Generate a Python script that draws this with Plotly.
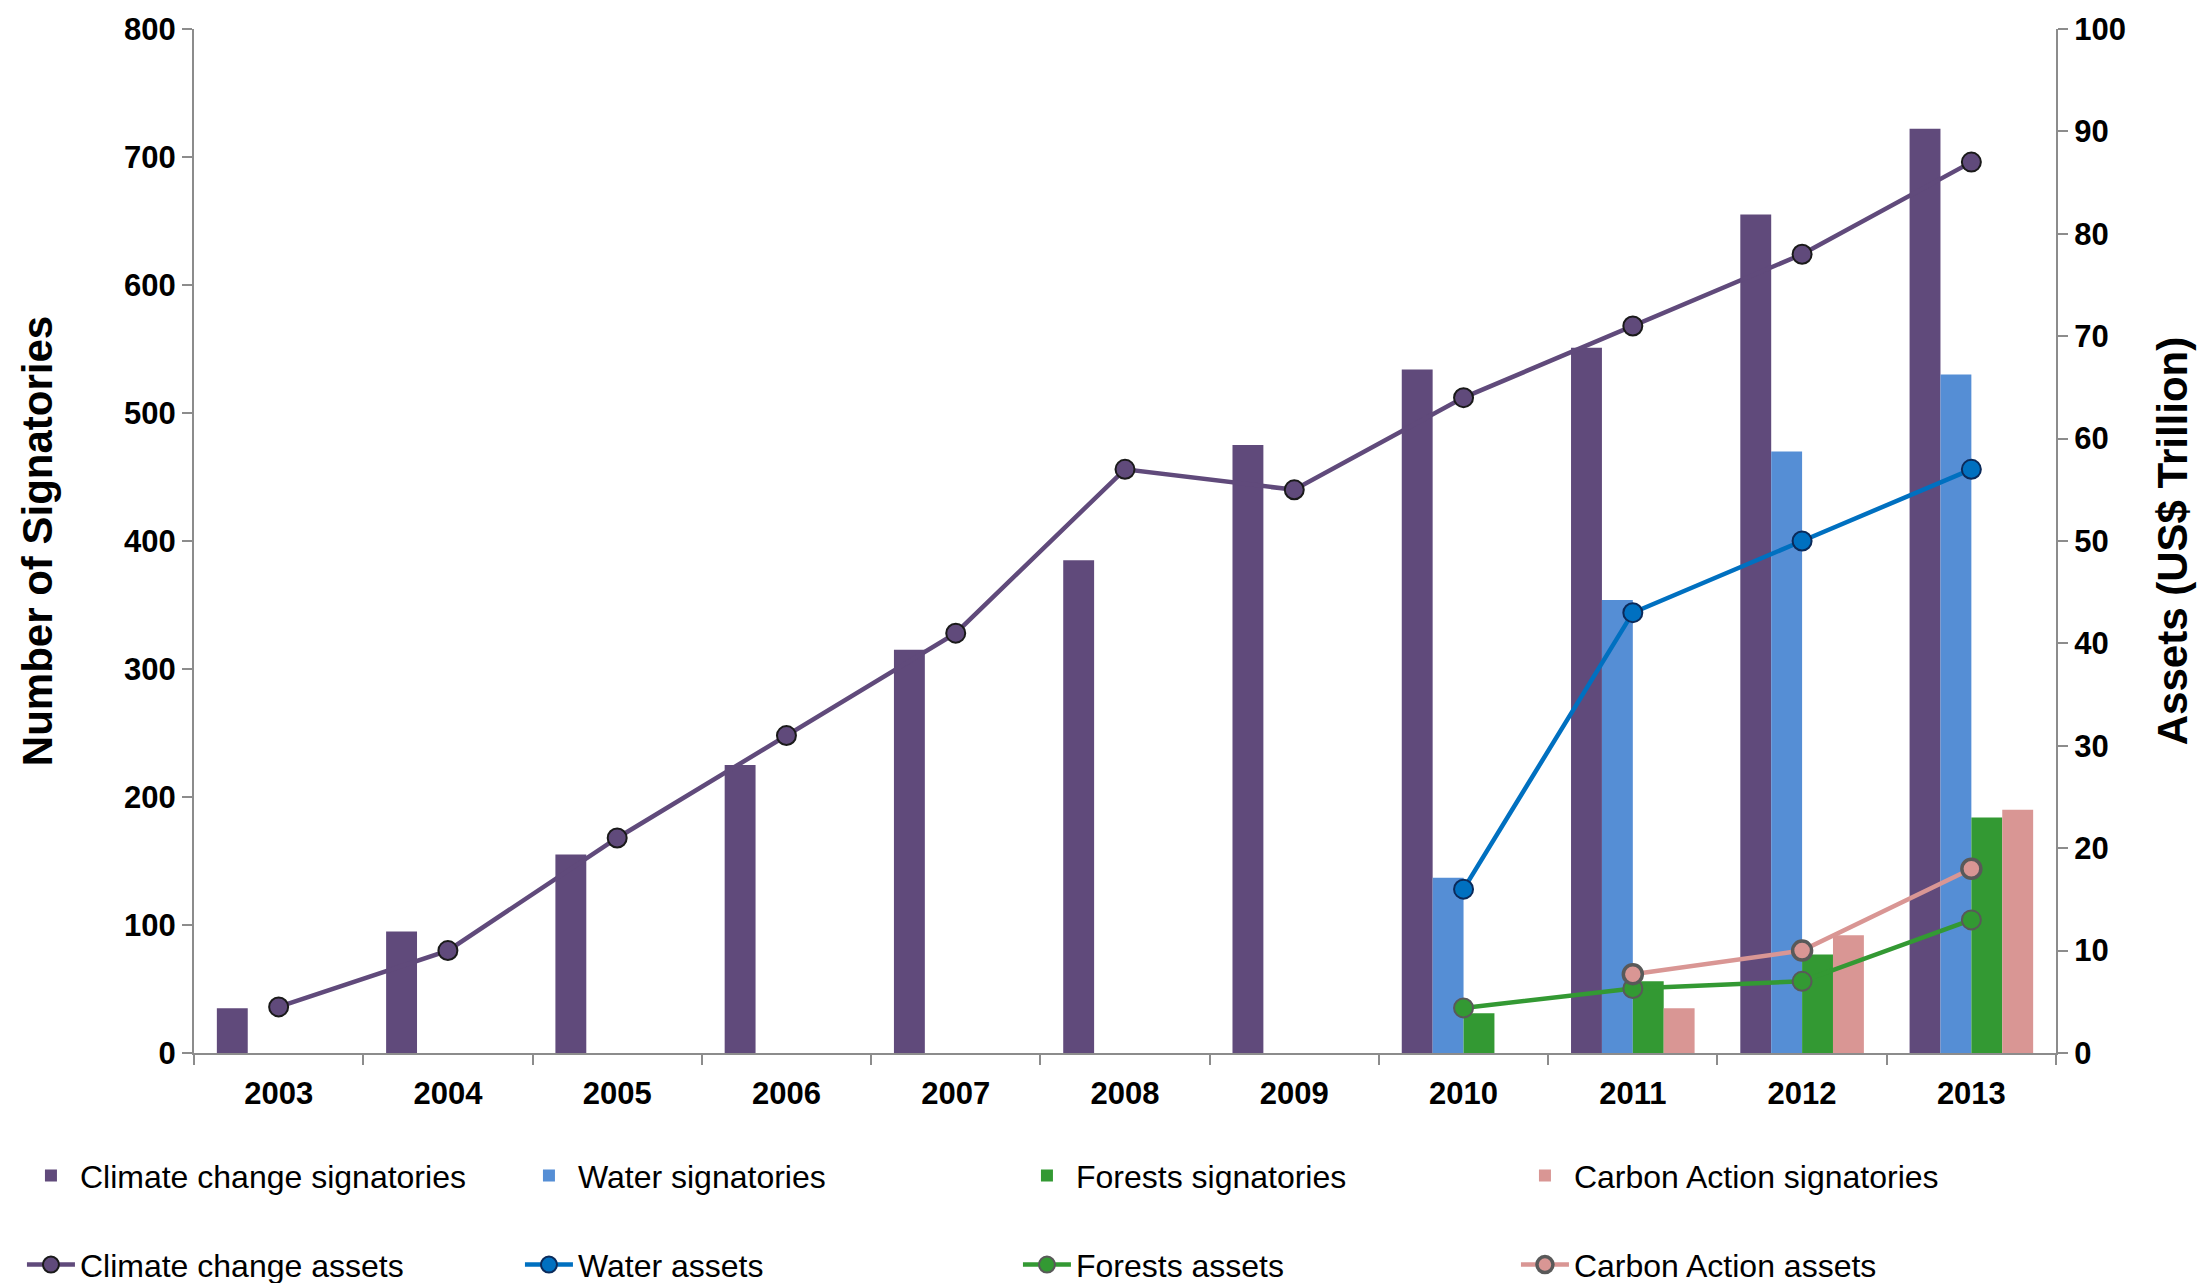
import plotly.graph_objects as go

years = ["2003", "2004", "2005", "2006", "2007", "2008", "2009", "2010", "2011", "2012", "2013"]

climate_sig = [35, 95, 155, 225, 315, 385, 475, 534, 551, 655, 722]
water_sig = [None, None, None, None, None, None, None, 137, 354, 470, 530]
forests_sig = [None, None, None, None, None, None, None, 31, 56, 77, 184]
carbon_sig = [None, None, None, None, None, None, None, None, 35, 92, 190]

climate_assets = [4.5, 10, 21, 31, 41, 57, 55, 64, 71, 78, 87]
water_assets = [None, None, None, None, None, None, None, 16, 43, 50, 57]
forests_assets = [None, None, None, None, None, None, None, 4.4, 6.3, 7.0, 13]
carbon_assets = [None, None, None, None, None, None, None, None, 7.7, 10, 18]

PURPLE = "#604A7B"
BLUE_BAR = "#558ED5"
GREEN = "#339933"
PINK = "#D99694"
BLUE_LINE = "#0070C0"

FONT = "Liberation Sans, Arial, sans-serif"

fig = go.Figure()

bars = [
    ("Climate change signatories", climate_sig, PURPLE),
    ("Water signatories", water_sig, BLUE_BAR),
    ("Forests signatories", forests_sig, GREEN),
    ("Carbon Action signatories", carbon_sig, PINK),
]
for name, vals, col in bars:
    fig.add_trace(go.Bar(x=years, y=vals, name=name, marker=dict(color=col, line=dict(width=0)),
                         legend="legend"))

lines = [
    ("Climate change assets", climate_assets, PURPLE, PURPLE, "#1a1a1a", 2),
    ("Water assets", water_assets, BLUE_LINE, BLUE_LINE, "#0B2A5A", 2),
    ("Forests assets", forests_assets, GREEN, GREEN, "#595959", 2),
    ("Carbon Action assets", carbon_assets, PINK, PINK, "#595959", 3.5),
]
for name, vals, lc, mc, mlc, mlw in lines:
    fig.add_trace(go.Scatter(x=years, y=vals, name=name, yaxis="y2", mode="lines+markers",
                             line=dict(color=lc, width=4.5),
                             marker=dict(size=19, color=mc, line=dict(color=mlc, width=mlw)),
                             legend="legend2"))

axis_common = dict(showgrid=False, zeroline=False, showline=True, linecolor="#8C8C8C", linewidth=2,
                   ticks="outside", ticklen=10, tickcolor="#8C8C8C", tickwidth=2,
                   tickfont=dict(family=FONT, size=31, color="black", weight="bold"))

legend_common = dict(orientation="h", x=-0.0924, xanchor="left", yanchor="top",
                     entrywidth=435, entrywidthmode="pixels", itemwidth=48,
                     font=dict(family=FONT, size=32, color="black"), traceorder="normal",
                     bgcolor="rgba(0,0,0,0)")

fig.update_layout(
    width=2201, height=1283,
    margin=dict(l=194, r=145, t=29, b=230, autoexpand=False),
    plot_bgcolor="white", paper_bgcolor="white",
    barmode="group", bargap=0.27, bargroupgap=0,
    font=dict(family=FONT, color="black"),
    xaxis=dict(type="category", tickson="boundaries", ticklabelstandoff=12,
               range=[-0.5, len(years) - 0.5], autorange=False, **axis_common),
    yaxis=dict(range=[0, 800], dtick=100, autorange=False,
               title=dict(text="Number of Signatories", font=dict(family=FONT, size=42, weight="bold"), standoff=58),
               automargin=False, **axis_common),
    yaxis2=dict(range=[0, 100], dtick=10, autorange=False, overlaying="y", side="right",
                title=dict(text="Assets (US$ Trillion)", font=dict(family=FONT, size=42, weight="bold"), standoff=33),
                automargin=False, **axis_common),
    legend=dict(y=-0.093, **legend_common),
    legend2=dict(y=-0.180, **legend_common),
)

fig.write_html("out.html")
